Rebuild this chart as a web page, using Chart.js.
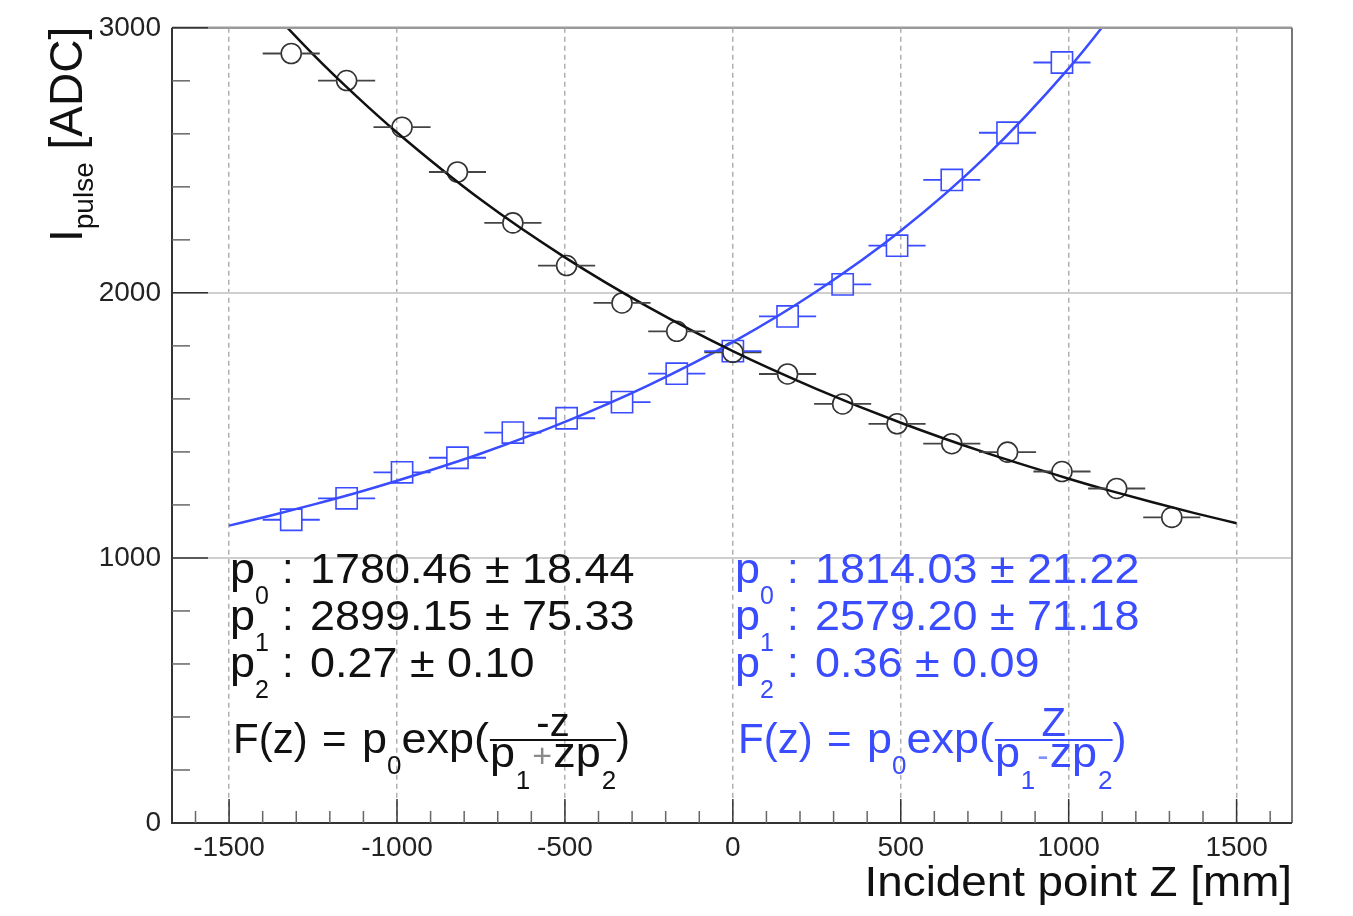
<!DOCTYPE html>
<html>
<head>
<meta charset="utf-8">
<script src="https://cdn.jsdelivr.net/npm/chart.js"></script>
<style>
  html, body { margin: 0; padding: 0; background: #fff; }
  #wrap { width: 1353px; height: 916px; position: relative; }
</style>
</head>
<body>
<div id="wrap"><canvas id="chart"></canvas></div>
<script>
// measured points (mm, ADC)
const zPoints = [-1315, -1150, -985, -820, -655, -495, -330, -167, 0, 163, 327, 489, 652, 818, 980, 1143, 1307];
const adcBlack = [2903, 2801, 2625, 2456, 2264, 2103, 1962, 1855, 1776, 1694, 1581, 1506, 1431, 1399, 1326, 1262, 1153];
const adcBlue = [1144, 1225, 1323, 1378, 1473, 1527, 1588, 1695, 1780, 1911, 2032, 2178, 2426, 2604, 2869];
const zErr = 85;

// fit curves
const fitZ = [-1500, -1375, -1250, -1125, -1000, -750, -500, -250, 0, 250, 500, 750, 1000, 1125, 1250, 1375, 1500];
const fitBlack = [3249, 3067, 2900, 2747, 2605, 2351, 2134, 1945, 1780, 1637, 1510, 1398, 1299, 1253, 1210, 1169, 1131];
const fitBlue = [1122, 1160, 1201, 1244, 1291, 1394, 1513, 1652, 1814, 2006, 2234, 2510, 2847, 3044, 3263, 3509, 3785];

// axis ticks
const xTicks = [-1500, -1000, -500, 0, 500, 1000, 1500];
const yTicks = [0, 1000, 2000, 3000];

// fit parameter texts
const parBlack = ['1780.46 \u00b1 18.44', '2899.15 \u00b1 75.33', '0.27 \u00b1 0.10'];
const parBlue = ['1814.03 \u00b1 21.22', '2579.20 \u00b1 71.18', '0.36 \u00b1 0.09'];

const BLACK = '#111111';
const BLUE = '#3a4cff';
const FONT = '"Liberation Sans", Arial, Helvetica, sans-serif';

function txt(ctx, s, x, y, size, color, sx) {
  sx = sx || 1;
  ctx.save();
  ctx.font = size + 'px ' + FONT;
  ctx.fillStyle = color;
  ctx.textBaseline = 'alphabetic';
  ctx.textAlign = 'left';
  const w = ctx.measureText(s).width * sx;
  ctx.translate(x, y);
  ctx.scale(sx, 1);
  ctx.fillText(s, 0, 0);
  ctx.restore();
  return x + w;
}

function drawParams(ctx, x0, color, vals) {
  const base = [583, 630, 677];
  vals.forEach((v, i) => {
    const y = base[i];
    const x = txt(ctx, 'p', x0, y, 42, color, 1.07);
    txt(ctx, String(i), x, y + 21, 25, color);
    txt(ctx, ':', x0 + 52, y, 42, color);
    txt(ctx, v, x0 + 80, y, 42, color, 1.07);
  });
}

function drawFormula(ctx, x0, color, light, num, sign) {
  const y = 753;
  const sx = 1.07;
  txt(ctx, 'F(z)', x0, y, 42, color);
  txt(ctx, '=', x0 + 89, y, 42, color);
  let x = txt(ctx, 'p', x0 + 129, y, 42, color, sx);
  x = txt(ctx, '0', x, y + 21, 26, color);
  x = txt(ctx, 'exp(', x, y, 42, color, sx);
  // denominator
  const fx = x + 1;
  let dx = txt(ctx, 'p', fx, 767, 42, color, sx);
  dx = txt(ctx, '1', dx + 1, 789, 26, color);
  dx = txt(ctx, sign, dx + 2, 767, 34, light);
  dx = txt(ctx, 'zp', dx + 1, 767, 42, color, sx);
  dx = txt(ctx, '2', dx + 1, 789, 26, color);
  ctx.fillStyle = color;
  ctx.fillRect(fx, 739, dx - fx, 2);
  // numerator centred over bar
  ctx.font = '40px ' + FONT;
  const nw = ctx.measureText(num).width;
  txt(ctx, num, fx + (dx - fx - nw) / 2, 736, 40, color);
  txt(ctx, ')', dx, y, 42, color);
}

const rootFrame = {
  id: 'rootFrame',
  afterDatasetsDraw(chart) {
    const ctx = chart.ctx;
    const xs = chart.scales.x, ys = chart.scales.y;
    const a = chart.chartArea;

    // horizontal error bars
    ctx.save();
    ctx.lineWidth = 1.8;
    const bars = (vals, color, r) => {
      ctx.strokeStyle = color;
      vals.forEach((v, i) => {
        const z = zPoints[i];
        const px = xs.getPixelForValue(z), py = ys.getPixelForValue(v);
        const l = xs.getPixelForValue(z - zErr), rr = xs.getPixelForValue(z + zErr);
        ctx.beginPath();
        ctx.moveTo(l, py); ctx.lineTo(px - r, py);
        ctx.moveTo(px + r, py); ctx.lineTo(rr, py);
        ctx.stroke();
      });
    };
    bars(adcBlack, '#444', 10);
    bars(adcBlue, BLUE, 10.5);
    ctx.restore();

    // frame
    ctx.save();
    ctx.lineWidth = 2.5;
    ctx.strokeStyle = '#9a9a9a';
    ctx.beginPath(); ctx.moveTo(a.left, a.top); ctx.lineTo(a.right, a.top); ctx.stroke();
    ctx.lineWidth = 2;
    ctx.strokeStyle = '#777';
    ctx.beginPath(); ctx.moveTo(a.right, a.top); ctx.lineTo(a.right, a.bottom); ctx.stroke();
    ctx.strokeStyle = '#333';
    ctx.beginPath();
    ctx.moveTo(a.left, a.top); ctx.lineTo(a.left, a.bottom); ctx.lineTo(a.right, a.bottom);
    ctx.stroke();

    // inward ticks
    ctx.lineWidth = 1.5;
    for (let v = 0; v <= 3000; v += 200) {
      const py = ys.getPixelForValue(v);
      const major = v % 1000 === 0;
      ctx.strokeStyle = major ? '#333' : '#666';
      ctx.beginPath(); ctx.moveTo(a.left, py); ctx.lineTo(a.left + (major ? 36 : 18), py); ctx.stroke();
    }
    for (let v = -1600; v <= 1600; v += 100) {
      const px = xs.getPixelForValue(v);
      const major = v % 500 === 0;
      ctx.strokeStyle = major ? '#333' : '#666';
      ctx.beginPath(); ctx.moveTo(px, a.bottom); ctx.lineTo(px, a.bottom - (major ? 24 : 12)); ctx.stroke();
    }
    ctx.restore();
  },
  afterDraw(chart) {
    const ctx = chart.ctx;
    drawParams(ctx, 230, BLACK, parBlack);
    drawParams(ctx, 735, BLUE, parBlue);
    drawFormula(ctx, 233, BLACK, '#8a8a8a', '-z', '+');
    drawFormula(ctx, 738, BLUE, '#8090ff', 'Z', '-');

    // axis titles
    ctx.save();
    ctx.font = '42px ' + FONT;
    const tw = ctx.measureText('Incident point Z [mm]').width * 1.09;
    ctx.restore();
    txt(ctx, 'Incident point Z [mm]', 1292 - tw, 896, 42, BLACK, 1.09);

    ctx.save();
    ctx.translate(82, 242);
    ctx.rotate(-Math.PI / 2);
    let x = txt(ctx, 'I', 0, 0, 46, BLACK);
    x = txt(ctx, 'pulse', x, 11, 28, BLACK);
    txt(ctx, ' [ADC]', x, 0, 46, BLACK);
    ctx.restore();
  }
};

new Chart(document.getElementById('chart'), {
  type: 'scatter',
  data: {
    datasets: [
      {
        type: 'line',
        data: fitZ.map((z, i) => ({ x: z, y: fitBlack[i] })),
        borderColor: BLACK,
        borderWidth: 2.5,
        pointRadius: 0,
        cubicInterpolationMode: 'monotone',
        fill: false,
        clip: 0
      },
      {
        type: 'line',
        data: fitZ.map((z, i) => ({ x: z, y: fitBlue[i] })),
        borderColor: BLUE,
        borderWidth: 2.5,
        pointRadius: 0,
        cubicInterpolationMode: 'monotone',
        fill: false,
        clip: 0
      },
      {
        data: adcBlack.map((v, i) => ({ x: zPoints[i], y: v })),
        pointStyle: 'circle',
        pointRadius: 10,
        borderWidth: 1.6,
        borderColor: '#333',
        backgroundColor: 'rgba(0,0,0,0)'
      },
      {
        data: adcBlue.map((v, i) => ({ x: zPoints[i], y: v })),
        pointStyle: 'rect',
        pointRadius: 15,
        borderWidth: 1.6,
        borderColor: BLUE,
        backgroundColor: 'rgba(0,0,0,0)'
      }
    ]
  },
  options: {
    responsive: true,
    maintainAspectRatio: false,
    animation: false,
    devicePixelRatio: 1,
    layout: { padding: { top: 24, right: 61, left: 0, bottom: 0 } },
    plugins: { legend: { display: false }, tooltip: { enabled: false } },
    events: [],
    scales: {
      x: {
        type: 'linear',
        min: -1670,
        max: 1665,
        afterBuildTicks: s => { s.ticks = xTicks.map(v => ({ value: v })); },
        afterFit: s => { s.height = 93; },
        grid: { color: '#b0b0b0', lineWidth: 1.5, drawTicks: false },
        border: { display: false, dash: [5, 4] },
        ticks: {
          font: { size: 28, family: FONT },
          color: '#222',
          padding: 8,
          maxRotation: 0,
          autoSkip: false,
          callback: v => String(v)
        }
      },
      y: {
        type: 'linear',
        min: 0,
        max: 3000,
        afterBuildTicks: s => { s.ticks = yTicks.map(v => ({ value: v })); },
        afterFit: s => { s.width = 172; },
        grid: {
          color: c => (c.tick && c.tick.value > 0 && c.tick.value < 3000) ? '#cfcfcf' : 'rgba(0,0,0,0)',
          lineWidth: 2,
          drawTicks: false
        },
        border: { display: false },
        ticks: {
          font: { size: 28, family: FONT },
          color: '#222',
          padding: 11,
          autoSkip: false,
          callback: v => String(v)
        }
      }
    }
  },
  plugins: [rootFrame]
});
</script>
</body>
</html>
